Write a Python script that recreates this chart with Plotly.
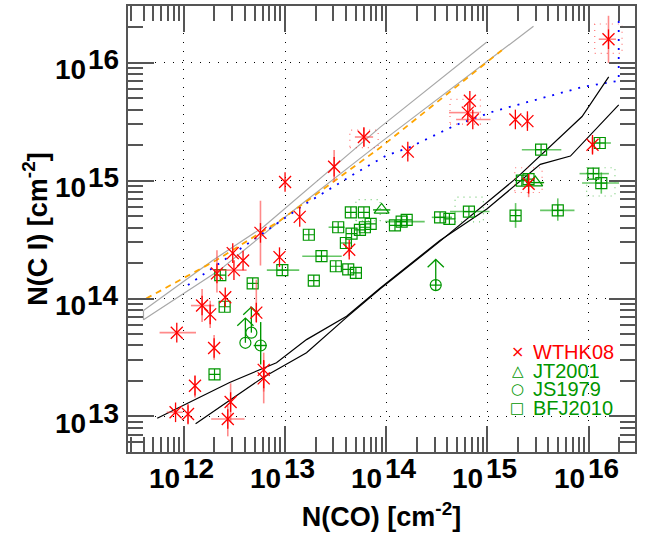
import plotly.graph_objects as go

# ---------------- data (log10 column densities, cm^-2) ----------------
# WTHK08 (red asterisks): x, y, x-range, y-range (None = no bar)
w_x   = [16.196, 14.826, 14.806, 14.855, 15.276, 15.395, 14.213, 13.779, 13.485, 13.000, 13.145,
         12.757, 12.483, 12.585, 12.495, 12.327, 12.945, 13.634, 16.038, 15.407, 12.409, 12.180,
         12.260, 11.930, 12.716, 12.299, 12.110, 11.918, 12.041, 12.434, 12.462, 12.789, 12.789]
w_y   = [16.201, 15.678, 15.578, 15.520, 15.520, 15.506, 15.247, 15.371, 15.118, 14.989, 14.693,
         14.557, 14.385, 14.322, 14.241, 14.213, 14.351, 14.414, 15.305, 14.974, 14.011, 13.940,
         13.865, 13.710, 13.880, 13.580, 13.259, 13.034, 13.020, 12.977, 13.121, 13.394, 13.322]
w_xlo = [16.10, None, 14.62, 14.69, None, None, None, 13.69, None, None, None,
         None, None, None, 12.30, None, None, None, None, None, None, 12.07,
         None, 11.76, None, None, None, 11.83, None, 12.27, None, None, None]
w_xhi = [16.27, None, 14.92, 15.03, None, None, None, 13.87, None, None, None,
         None, None, None, 12.62, None, None, None, None, None, None, 12.30,
         None, 12.12, None, None, None, 11.99, None, 12.60, None, None, None]
w_ylo = [16.00, None, None, None, None, 15.45, 15.21, 15.29, 14.99, None, None,
         14.28, None, None, None, 14.05, None, 14.36, 15.23, 14.86, None, 13.80,
         13.75, None, 13.80, 13.48, 13.16, None, 12.93, 12.83, 12.95, 13.21, 13.11]
w_yhi = [16.40, None, None, None, None, 15.56, 15.29, 15.45, 15.26, None, None,
         14.83, None, None, None, 14.41, None, 14.47, 15.37, 15.05, None, 14.08,
         13.98, None, 14.16, 13.69, 13.35, None, 13.09, 13.09, 13.28, 13.54, 13.47]

# BFJ2010 (green squares)
b_x   = [16.110, 15.530, 16.046, 16.125, 15.340, 15.406, 15.695, 15.278, 14.817, 14.624, 14.532,
         14.202, 14.152, 14.086, 13.846, 13.789, 13.740, 13.650, 13.779, 13.525, 13.657, 13.601,
         13.235, 13.360, 13.502, 13.624, 13.700, 12.973, 13.284, 12.680, 12.360, 12.403, 12.303]
b_y   = [15.320, 15.263, 15.060, 14.980, 15.000, 15.013, 14.748, 14.703, 14.738, 14.676, 14.689,
         14.668, 14.653, 14.620, 14.634, 14.605, 14.583, 14.731, 14.731, 14.605, 14.550, 14.471,
         14.541, 14.359, 14.274, 14.247, 14.218, 14.241, 14.151, 14.128, 14.198, 13.930, 13.356]
b_xlo = [16.03, 15.34, 15.91, 15.935, None, None, 15.52, None, 14.63, None, 14.45,
         None, 13.99, None, None, None, None, None, None, 13.43, None, None,
         None, 13.17, None, None, None, 12.82, None, None, None, None, None]
b_xhi = [16.22, 15.73, 16.20, 16.30, None, None, 15.86, None, 15.02, None, 14.65,
         None, 14.38, None, None, None, None, None, None, 13.59, None, None,
         None, 13.56, None, None, None, 13.14, None, None, None, None, None]
b_ylo = [None, None, None, 14.89, None, None, 14.66, 14.60, None, None, None,
         None, None, None, None, None, None, None, None, None, None, None,
         None, None, None, None, None, None, None, None, None, None, None]
b_yhi = [None, None, None, 15.07, None, None, 14.85, 14.81, None, None, None,
         None, None, None, None, None, None, None, None, None, None, None,
         None, None, None, None, None, None, None, None, None, None, None]

# JT2001 (green triangles)
j_x   = [13.954, 15.472]
j_y   = [14.752, 14.984]
j_xlo = [13.87, 15.38]
j_xhi = [14.04, 15.56]

# JS1979 (green circles): measured point and lower limits
s_x   = [12.759]
s_y   = [13.601]
s_xlo = [12.69]
s_xhi = [12.82]
s_ylo = [13.44]
s_yhi = [13.80]
ll_x   = [12.608, 12.667, 14.489]
ll_y   = [13.624, 13.710, 14.114]
ll_top = [13.834, 13.927, 14.331]
ll_cross = [False, False, True]

# model curves
gray1_x = [11.601, 12.287, 12.782, 13.938, 14.994]
gray1_y = [13.899, 14.325, 14.605, 15.453, 16.177]
gray2_x = [11.601, 11.601, 12.353, 12.915, 13.938, 15.455]
gray2_y = [13.899, 13.820, 14.241, 14.634, 15.321, 16.311]
orange_x = [11.628, 12.320, 12.948, 13.938, 15.142]
orange_y = [14.000, 14.325, 14.660, 15.279, 16.107]
blue_x = [12.040, 12.650, 13.178, 13.707, 14.004, 14.219, 14.697, 15.060, 15.950, 16.297, 16.297]
blue_y = [14.114, 14.480, 14.790, 15.070, 15.215, 15.279, 15.476, 15.588, 15.798, 15.848, 16.370]
black1_x = [11.737, 12.452, 12.915, 13.212, 13.608, 13.938, 14.530, 14.994, 15.522, 15.820, 16.297]
black1_y = [12.984, 13.287, 13.455, 13.651, 13.850, 14.087, 14.493, 14.760, 15.139, 15.209, 15.644]
black2_x = [12.116, 12.782, 13.212, 13.608, 13.938, 14.530, 15.291, 15.935, 16.198]
black2_y = [12.936, 13.330, 13.540, 13.840, 14.080, 14.485, 15.026, 15.545, 15.882]

# systematic-uncertainty boxes (x0, x1, y0, y1)
red_boxes = [(16.06, 16.33, 16.08, 16.33), (14.63, 14.93, 15.48, 15.69),
             (13.64, 13.92, 15.28, 15.43), (15.27, 15.54, 14.90, 15.11)]
green_boxes = [(15.98, 16.26, 14.87, 15.11), (14.68, 14.96, 14.65, 14.86),
               (13.70, 13.94, 14.66, 14.84)]

tick_exp = [12, 13, 14, 15, 16]

# ---------------- helpers ----------------
def lin(v):
    return [None if a is None else 10 ** a for a in v]

def errs(v, lo, hi):
    plus, minus = [], []
    for c, l, h in zip(v, lo, hi):
        plus.append(0 if h is None else 10 ** h - 10 ** c)
        minus.append(0 if l is None else 10 ** c - 10 ** l)
    return plus, minus

RED = "rgb(255,0,0)"
RED_E = "rgba(255,60,60,0.6)"
GRN = "rgb(0,150,0)"
GRN_E = "rgba(0,160,0,0.6)"

fig = go.Figure()

def curve(xs, ys, color, width=1.2, dash="solid"):
    fig.add_trace(go.Scatter(x=lin(xs), y=lin(ys), mode="lines", showlegend=False,
                             hoverinfo="skip", line=dict(color=color, width=width, dash=dash)))

curve(gray1_x, gray1_y, "#a8a8a8")
curve(gray2_x, gray2_y, "#a8a8a8")
curve(orange_x, orange_y, "#ffa500", 1.8, "6px,5px")
curve(blue_x, blue_y, "#0000ff", 1.8, "2px,7px")
curve(black1_x, black1_y, "black", 1.2)
curve(black2_x, black2_y, "black", 1.2)

def boxes(bl, color):
    xs, ys = [], []
    for x0, x1, y0, y1 in bl:
        xs += [x0, x1, x1, x0, x0, None]
        ys += [y0, y0, y1, y1, y0, None]
    fig.add_trace(go.Scatter(x=lin(xs), y=lin(ys), mode="lines", showlegend=False,
                             hoverinfo="skip", line=dict(color=color, width=1.2, dash="1px,5px")))

boxes(red_boxes, "rgba(255,0,0,0.55)")
boxes(green_boxes, "rgba(0,160,0,0.55)")

# BFJ2010 squares
bxp, bxm = errs(b_x, b_xlo, b_xhi)
byp, bym = errs(b_y, b_ylo, b_yhi)
fig.add_trace(go.Scatter(
    x=lin(b_x), y=lin(b_y), mode="markers", name="BFJ2010", showlegend=False,
    marker=dict(symbol="square-cross-open", size=11, color=GRN, line=dict(color=GRN, width=1.2)),
    error_x=dict(type="data", array=bxp, arrayminus=bxm, symmetric=False, width=0, thickness=1.6, color=GRN_E),
    error_y=dict(type="data", array=byp, arrayminus=bym, symmetric=False, width=0, thickness=1.6, color=GRN_E)))

# JT2001 triangles
jxp, jxm = errs(j_x, j_xlo, j_xhi)
fig.add_trace(go.Scatter(
    x=lin(j_x), y=lin(j_y), mode="markers", name="JT2001", showlegend=False,
    marker=dict(symbol="triangle-up-open", size=13, color=GRN, line=dict(color=GRN, width=1.2)),
    error_x=dict(type="data", array=jxp, arrayminus=jxm, symmetric=False, width=0, thickness=1.4, color=GRN)))

# JS1979 circles
sxp, sxm = errs(s_x, s_xlo, s_xhi)
syp, sym = errs(s_y, s_ylo, s_yhi)
fig.add_trace(go.Scatter(
    x=lin(s_x), y=lin(s_y), mode="markers", name="JS1979", showlegend=False,
    marker=dict(symbol="circle-cross-open", size=11, color=GRN, line=dict(color=GRN, width=1.2)),
    error_x=dict(type="data", array=sxp, arrayminus=sxm, symmetric=False, width=0, thickness=1.4, color=GRN),
    error_y=dict(type="data", array=syp, arrayminus=sym, symmetric=False, width=0, thickness=1.4, color=GRN)))
fig.add_trace(go.Scatter(
    x=lin(ll_x), y=lin(ll_y), mode="markers", showlegend=False,
    marker=dict(symbol=["circle-cross-open" if c else "circle-open" for c in ll_cross],
                size=11, color=GRN, line=dict(color=GRN, width=1.2))))
# lower-limit arrows
ax_, ay_ = [], []
for x, y, t in zip(ll_x, ll_y, ll_top):
    ax_ += [x, x, None, x - 0.08, x, x + 0.08, None]
    ay_ += [y, t, None, t - 0.065, t, t - 0.065, None]
fig.add_trace(go.Scatter(x=lin(ax_), y=lin(ay_), mode="lines", showlegend=False,
                         hoverinfo="skip", line=dict(color=GRN, width=1.3)))

# WTHK08 asterisks
wxp, wxm = errs(w_x, w_xlo, w_xhi)
wyp, wym = errs(w_y, w_ylo, w_yhi)
fig.add_trace(go.Scatter(
    x=lin(w_x), y=lin(w_y), mode="markers", name="WTHK08", showlegend=False,
    marker=dict(symbol="x-thin-open", size=12, color=RED, line=dict(color=RED, width=1.3)),
    error_x=dict(type="data", array=wxp, arrayminus=wxm, symmetric=False, width=0, thickness=1.6, color=RED_E),
    error_y=dict(type="data", array=wyp, arrayminus=wym, symmetric=False, width=0, thickness=1.6, color=RED_E)))
fig.add_trace(go.Scatter(
    x=lin(w_x), y=lin(w_y), mode="markers", showlegend=False, hoverinfo="skip",
    marker=dict(symbol="line-ns-open", size=14, color=RED, line=dict(color=RED, width=1.3))))

# ---------------- axes ----------------
FONT = "Liberation Sans, Arial, Helvetica, sans-serif"
TICKF = dict(family=FONT, size=28, color="black", weight="bold")
axis_common = dict(
    type="log", tickmode="array", tickvals=[10 ** e for e in tick_exp], showticklabels=False,
    ticks="inside", ticklen=26, tickwidth=1.5, tickcolor="#555",
    showline=True, linecolor="#555", linewidth=2, mirror="allticks",
    showgrid=True, gridcolor="black", gridwidth=1, griddash="1px,8px", zeroline=False,
    minor=dict(ticks="inside", ticklen=15, tickwidth=1.5, tickcolor="#555", dtick="D1", showgrid=False),
)
fig.update_xaxes(**axis_common, range=[11.448, 16.458],
                 title=dict(text="N(CO) [cm<sup>-2</sup>]", standoff=54,
                            font=dict(family=FONT, size=27, color="black", weight="bold")))
fig.update_yaxes(**axis_common, range=[12.697, 16.483],
                 title=dict(text="N(C I) [cm<sup>-2</sup>]", standoff=71,
                            font=dict(family=FONT, size=27, color="black", weight="bold")))

# tick labels "10" with full-size exponents
for e in tick_exp:
    fig.add_annotation(xref="x", yref="paper", x=e, y=0, text="10", showarrow=False, borderpad=0,
                       xanchor="right", yanchor="top", xshift=-3, yshift=-10, font=TICKF)
    fig.add_annotation(xref="x", yref="paper", x=e, y=0, text=str(e), showarrow=False, borderpad=0,
                       xanchor="left", yanchor="top", xshift=-2, yshift=0, font=TICKF)
    fig.add_annotation(xref="paper", yref="y", x=0, y=e, text="10", showarrow=False, borderpad=0,
                       xanchor="right", yanchor="middle", xshift=-41, yshift=-7, font=TICKF)
    fig.add_annotation(xref="paper", yref="y", x=0, y=e, text=str(e), showarrow=False, borderpad=0,
                       xanchor="right", yanchor="middle", xshift=-8, yshift=3, font=TICKF)

# legend (drawn as annotations)
leg = [("×", "WTHK08", RED, 16), ("△", "JT2001", GRN, 15), ("○", "JS1979", GRN, 15), ("□", "BFJ2010", GRN, 15)]
leg_y = [0.2254, 0.183, 0.143, 0.1004]
for (sym_, lab, col, ss), yy in zip(leg, leg_y):
    fig.add_annotation(xref="paper", yref="paper", x=0.7830, y=yy, text=sym_, showarrow=False, borderpad=0,
                       height=17, xanchor="right", yanchor="middle",
                       font=dict(family="DejaVu Sans", size=ss, color=col))
    fig.add_annotation(xref="paper", yref="paper", x=0.7960, y=yy, text=lab, showarrow=False, borderpad=0,
                       height=17, xanchor="left", yanchor="middle",
                       font=dict(family=FONT, size=20, color=col))

fig.update_layout(
    width=647, height=535, margin=dict(l=128, r=12, t=4, b=83),
    paper_bgcolor="white", plot_bgcolor="white", showlegend=False,
)

fig.write_html("out.html", config={"displayModeBar": False},
               post_script="document.body.style.margin='0px';")
